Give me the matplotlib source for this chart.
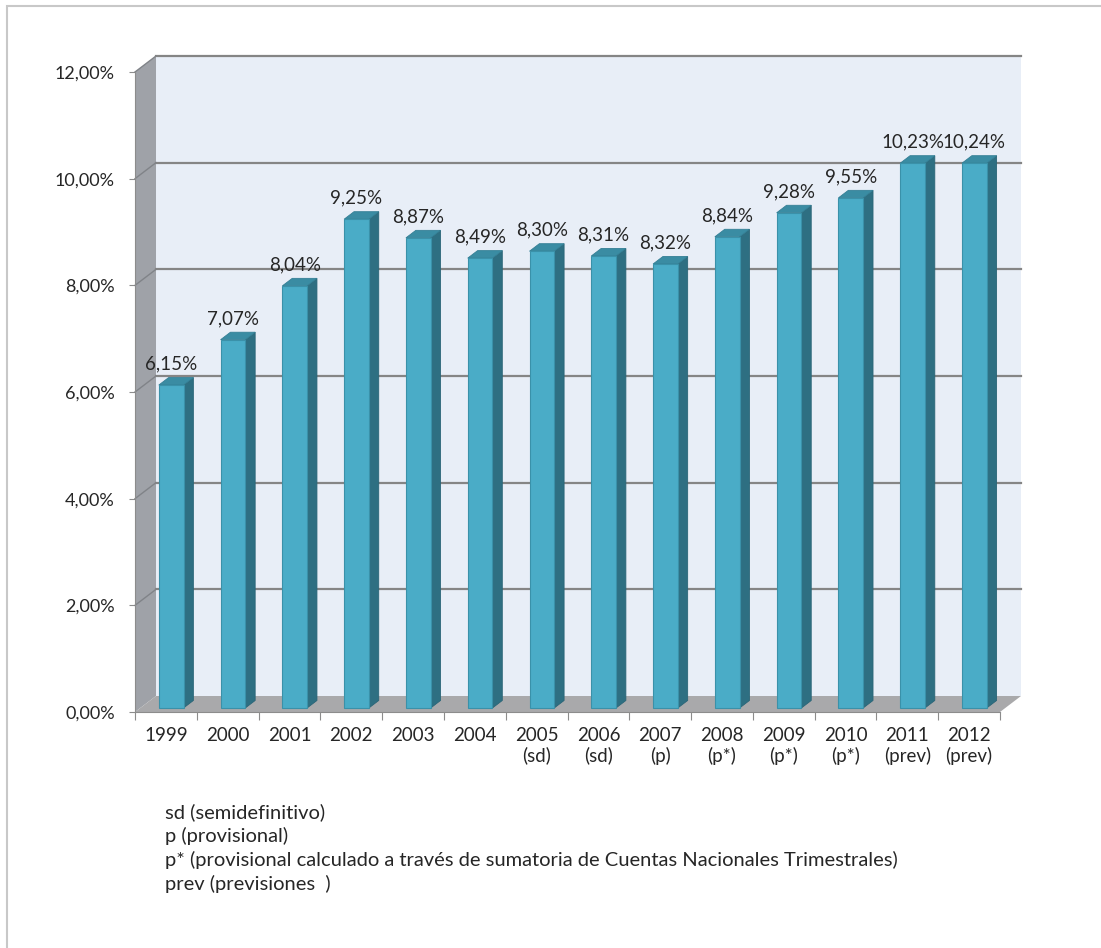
import matplotlib
matplotlib.use("Agg")
import matplotlib.pyplot as plt
from matplotlib.patches import Polygon, Rectangle

plt.rcParams['font.family'] = ['Lato', 'DejaVu Sans']

# datos
anios = ['1999', '2000', '2001', '2002', '2003', '2004', '2005\n(sd)', '2006\n(sd)',
         '2007\n(p)', '2008\n(p*)', '2009\n(p*)', '2010\n(p*)', '2011\n(prev)', '2012\n(prev)']
# altura de cada barra (cara frontal) en %
valores = [6.13, 6.98, 7.99, 9.24, 8.89, 8.51, 8.64, 8.55, 8.40, 8.91, 9.36, 9.64, 10.29, 10.29]
etiquetas = ['6,15%', '7,07%', '8,04%', '9,25%', '8,87%', '8,49%', '8,30%', '8,31%',
             '8,32%', '8,84%', '9,28%', '9,55%', '10,23%', '10,24%']
notas = ['sd (semidefinitivo)',
         'p (provisional)',
         'p* (provisional calculado a través de sumatoria de Cuentas Nacionales Trimestrales)',
         'prev (previsiones  )']
ticks_y = [0, 2, 4, 6, 8, 10, 12]

n = len(valores)
DX, DY = 0.34, 0.30          # profundidad del "3D" en unidades de datos
frente, fondo = 0.25, 0.72   # posicion de la barra dentro de la profundidad

fig = plt.figure(figsize=(11.01, 9.48), dpi=100)
ax = fig.add_axes([135 / 1101, 1 - 712 / 948, 865 / 1101, 640 / 948])
ax.set_xlim(0, n)
ax.set_ylim(0, 12)
ax.patch.set_visible(False)

# paredes y suelo
ax.add_patch(Polygon([(DX, DY), (n + DX, DY), (n + DX, 12 + DY), (DX, 12 + DY)],
                     closed=True, fc='#e8eef7', ec='none', zorder=0, clip_on=False))
ax.add_patch(Polygon([(0, 0), (DX, DY), (DX, 12 + DY), (0, 12)],
                     closed=True, fc='#9fa2a8', ec='none', zorder=1, clip_on=False))
ax.add_patch(Polygon([(0, 0), (n, 0), (n + DX, DY), (DX, DY)],
                     closed=True, fc='#a9a9ab', ec='none', zorder=1, clip_on=False))

for v in ticks_y[1:]:
    ax.plot([DX, n + DX], [v + DY, v + DY], color='#858585', lw=1.6, zorder=2, clip_on=False)
    ax.plot([0, DX], [v, v + DY], color='#808388', lw=1.0, zorder=2, clip_on=False)

# barras
bdx, bdy = (fondo - frente) * DX, (fondo - frente) * DY
for i, v in enumerate(valores):
    x0 = i + 0.3 + frente * DX
    x1 = i + 0.7 + frente * DX
    y0 = frente * DY
    ax.add_patch(Polygon([(x1, y0), (x1 + bdx, y0 + bdy), (x1 + bdx, v + bdy), (x1, v)],
                         closed=True, fc='#2e6f82', ec='#2a6577', lw=0.6, zorder=3, clip_on=False))
    ax.add_patch(Polygon([(x0, v), (x1, v), (x1 + bdx, v + bdy), (x0 + bdx, v + bdy)],
                         closed=True, fc='#3a8ca3', ec='#347f95', lw=0.6, zorder=3, clip_on=False))
    ax.add_patch(Rectangle((x0, y0), x1 - x0, v - y0, fc='#4aacc7', ec='#3a91a9',
                           lw=0.8, zorder=4, clip_on=False))
    ax.text((x0 + x1) / 2, v + 0.40, etiquetas[i], ha='center', va='center',
            fontsize=13.5, color='#262626', zorder=5)

# ejes
for s in ['top', 'right']:
    ax.spines[s].set_visible(False)
ax.spines['left'].set_color('#8c8c8c')
ax.spines['bottom'].set_color('#8c8c8c')
ax.spines['left'].set_zorder(2)
ax.spines['bottom'].set_zorder(2)

ax.set_yticks(ticks_y)
ax.set_yticklabels(['%d,00%%' % t for t in ticks_y])
ax.tick_params(axis='y', direction='out', length=4.5, pad=10, color='#8c8c8c',
               labelsize=13, labelcolor='#262626')

ax.set_xticks(range(n + 1))
ax.set_xticklabels([])
ax.tick_params(axis='x', which='major', direction='out', length=5.5, color='#8c8c8c')
ax.set_xticks([i + 0.5 for i in range(n)], minor=True)
ax.set_xticklabels(anios, minor=True, linespacing=1.15)
ax.tick_params(axis='x', which='minor', length=0, pad=11, labelsize=13.5,
               labelcolor='#262626')
for lab in ax.get_xticklabels(minor=True):
    lab.set_verticalalignment('top')

# notas
for k, t in enumerate(notas):
    fig.text(165 / 1101, 1 - (812 + 24 * k) / 948, t, fontsize=14.5, color='#262626',
             ha='left', va='center')

# marco exterior
fig.add_artist(Rectangle((7 / 1101, -0.01), 1.02, 1 - 6 / 948 + 0.01,
                         transform=fig.transFigure, fill=False, ec='#c8c8c8', lw=1.5))

fig.savefig('out.png', dpi=100)
